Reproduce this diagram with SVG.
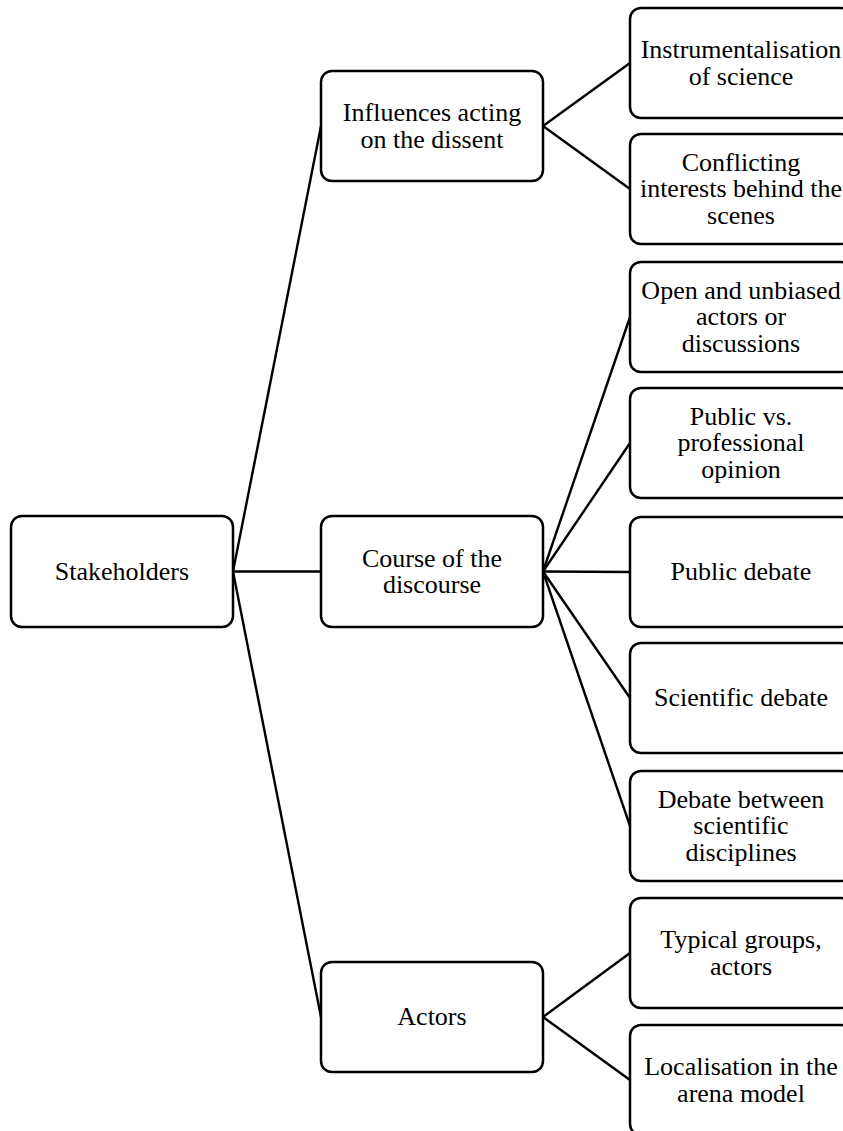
<svg xmlns="http://www.w3.org/2000/svg" width="843" height="1131" viewBox="0 0 843 1131">
<style>
.box{fill:#fff;stroke:#000;stroke-width:2.5}
.lbl{font-family:"Liberation Serif","Times New Roman",Times,"DejaVu Serif",serif;font-size:26px;fill:#000;text-anchor:middle}
.conn line{stroke:#000;stroke-width:2.4}
</style>
<rect width="843" height="1131" fill="#fff"/>
<g class="conn" id="connectors">
<line x1="233" y1="571.5" x2="321" y2="126"/>
<line x1="233" y1="571.5" x2="321" y2="571.5"/>
<line x1="233" y1="571.5" x2="321" y2="1017"/>
<line x1="543" y1="126" x2="630" y2="63"/>
<line x1="543" y1="126" x2="630" y2="189"/>
<line x1="543" y1="571.5" x2="630" y2="317"/>
<line x1="543" y1="571.5" x2="630" y2="443"/>
<line x1="543" y1="571.5" x2="630" y2="572"/>
<line x1="543" y1="571.5" x2="630" y2="698"/>
<line x1="543" y1="571.5" x2="630" y2="826"/>
<line x1="543" y1="1017" x2="630" y2="953"/>
<line x1="543" y1="1017" x2="630" y2="1080"/>
</g>
<g id="stakeholders"><rect class="box" x="11" y="516" width="222" height="111" rx="11"/><text class="lbl" x="122" y="579.5">Stakeholders</text></g>
<g id="influences"><rect class="box" x="321" y="71" width="222" height="110" rx="11"/><text class="lbl" x="432" y="121">Influences acting</text><text class="lbl" x="432" y="147.5">on the dissent</text></g>
<g id="course"><rect class="box" x="321" y="516" width="222" height="111" rx="11"/><text class="lbl" x="432" y="566.5">Course of the</text><text class="lbl" x="432" y="593">discourse</text></g>
<g id="actors"><rect class="box" x="321" y="962" width="222" height="110" rx="11"/><text class="lbl" x="432" y="1025">Actors</text></g>
<g id="instrumentalisation"><rect class="box" x="630" y="8" width="222" height="110" rx="11"/><text class="lbl" x="741" y="58">Instrumentalisation</text><text class="lbl" x="741" y="84.5">of science</text></g>
<g id="conflicting"><rect class="box" x="630" y="134" width="222" height="110" rx="11"/><text class="lbl" x="741" y="170.5">Conflicting</text><text class="lbl" x="741" y="197">interests behind the</text><text class="lbl" x="741" y="223.5">scenes</text></g>
<g id="open"><rect class="box" x="630" y="262" width="222" height="110" rx="11"/><text class="lbl" x="741" y="298.5">Open and unbiased</text><text class="lbl" x="741" y="325">actors or</text><text class="lbl" x="741" y="351.5">discussions</text></g>
<g id="publicvs"><rect class="box" x="630" y="388" width="222" height="110" rx="11"/><text class="lbl" x="741" y="424.5">Public vs.</text><text class="lbl" x="741" y="451">professional</text><text class="lbl" x="741" y="477.5">opinion</text></g>
<g id="publicdebate"><rect class="box" x="630" y="517" width="222" height="110" rx="11"/><text class="lbl" x="741" y="580">Public debate</text></g>
<g id="scientificdebate"><rect class="box" x="630" y="643" width="222" height="110" rx="11"/><text class="lbl" x="741" y="706">Scientific debate</text></g>
<g id="disciplines"><rect class="box" x="630" y="771" width="222" height="110" rx="11"/><text class="lbl" x="741" y="807.5">Debate between</text><text class="lbl" x="741" y="834">scientific</text><text class="lbl" x="741" y="860.5">disciplines</text></g>
<g id="typical"><rect class="box" x="630" y="898" width="222" height="110" rx="11"/><text class="lbl" x="741" y="948">Typical groups,</text><text class="lbl" x="741" y="974.5">actors</text></g>
<g id="localisation"><rect class="box" x="630" y="1025" width="222" height="110" rx="11"/><text class="lbl" x="741" y="1075">Localisation in the</text><text class="lbl" x="741" y="1101.5">arena model</text></g>
</svg>
